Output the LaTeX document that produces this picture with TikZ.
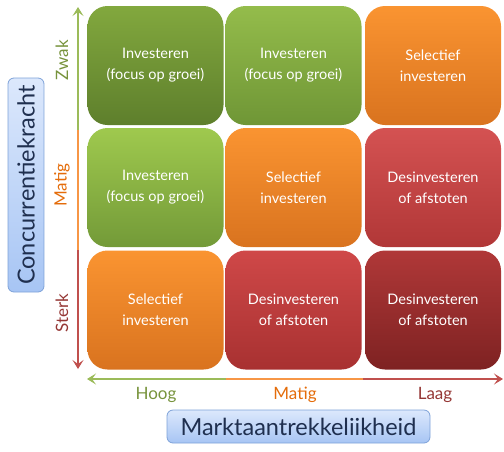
\documentclass[tikz,border=0pt]{standalone}
\usepackage{fontspec}
\setmainfont{Lato}
\usetikzlibrary{arrows.meta}
\definecolor{ogreen}{HTML}{9BBB59}
\definecolor{oorange}{HTML}{F79646}
\definecolor{ored}{HTML}{C0504D}
\definecolor{tgreen}{HTML}{77933C}
\definecolor{torange}{HTML}{E46C0A}
\definecolor{tred}{HTML}{953735}
\definecolor{navy}{HTML}{1F2F4F}
\definecolor{boxtop}{HTML}{DCE8FC}
\definecolor{boxbot}{HTML}{A7C5F4}
\definecolor{boxline}{HTML}{7EA2D8}
\tikzset{
  cell/.style={rounded corners=20pt, minimum width=136pt, minimum height=119pt,
    inner sep=0pt, align=center, text=white, font=\fontsize{14.5}{21}\selectfont},
  green1/.style={top color={rgb,255:red,130;green,168;blue,62}, bottom color={rgb,255:red,94;green,127;blue,44}},
  green2/.style={top color={rgb,255:red,148;green,188;blue,75}, bottom color={rgb,255:red,111;green,150;blue,54}},
  green3/.style={top color={rgb,255:red,159;green,201;blue,78}, bottom color={rgb,255:red,115;green,154;blue,56}},
  orangecell/.style={top color={rgb,255:red,250;green,148;blue,49}, bottom color={rgb,255:red,217;green,115;blue,31}},
  red1/.style={top color={rgb,255:red,212;green,82;blue,82}, bottom color={rgb,255:red,177;green,55;blue,55}},
  red2/.style={top color={rgb,255:red,207;green,72;blue,72}, bottom color={rgb,255:red,168;green,49;blue,49}},
  red3/.style={top color={rgb,255:red,176;green,56;blue,56}, bottom color={rgb,255:red,126;green,34;blue,34}},
  axlabel/.style={font=\fontsize{17}{18}\selectfont},
  titlebox/.style={draw=boxline, line width=0.8pt, rounded corners=6pt, top color=boxtop,
    bottom color=boxbot, text=navy, font=\fontsize{23.5}{26}\selectfont, inner sep=0pt},
  axline/.style={line width=2.6pt},
  tip/.style={-{Stealth[length=9pt,width=11pt,inset=4pt]}}
}
\begin{document}
\begin{tikzpicture}[x=1pt,y=-1pt]
\useasboundingbox (0,0) rectangle (504,451);
% cells
\node[cell,green1]     (c11) at (155.5,65.5) {Investeren\\(focus op groei)};
\node[cell,green2]     (c12) at (293.5,65.5) {Investeren\\(focus op groei)};
\node[cell,orangecell] (c13) at (433,65.5)   {Selectief\\investeren};
\node[cell,green3]     (c21) at (155.5,187.5) {Investeren\\(focus op groei)};
\node[cell,orangecell] (c22) at (293.5,187.5) {Selectief\\investeren};
\node[cell,red1]       (c23) at (433,187.5)   {Desinvesteren\\of afstoten};
\node[cell,orangecell] (c31) at (155.5,310) {Selectief\\investeren};
\node[cell,red2]       (c32) at (293.5,310) {Desinvesteren\\of afstoten};
\node[cell,red3]       (c33) at (433,310)   {Desinvesteren\\of afstoten};
% vertical axis
\coordinate (vtop) at (78,7);
\coordinate (v1) at (78,130);
\coordinate (v2) at (78,250);
\coordinate (vbot) at (78,369);
\draw[axline,ogreen,tip] (v1) -- (vtop);
\draw[axline,oorange] (v1) -- (v2);
\draw[axline,ored,tip] (v2) -- (vbot);
% horizontal axis
\coordinate (hleft) at (87,379);
\coordinate (h1) at (226,379);
\coordinate (h2) at (363,379);
\coordinate (hright) at (503,379);
\draw[axline,ogreen,tip] (h1) -- (hleft);
\draw[axline,oorange] (h1) -- (h2);
\draw[axline,ored,tip] (h2) -- (hright);
% axis labels
\node[axlabel,text=tgreen,rotate=90] (zwak) at (62,60) {Zwak};
\node[axlabel,text=torange,rotate=90] (matigv) at (62,185) {Matig};
\node[axlabel,text=tred,rotate=90] (sterk) at (62,313) {Sterk};
\node[axlabel,text=tgreen] (hoog) at (156,395) {Hoog};
\node[axlabel,text=torange] (matigh) at (295,395) {Matig};
\node[axlabel,text=tred] (laag) at (435,395) {Laag};
% titles
\node[titlebox,rotate=90,minimum width=214pt,minimum height=36pt] (conc) at (26,185) {Concurrentiekracht};
\node[titlebox,minimum width=263pt,minimum height=33pt] (markt) at (298.5,426.5) {Marktaantrekkeliikheid};
\end{tikzpicture}
\end{document}
